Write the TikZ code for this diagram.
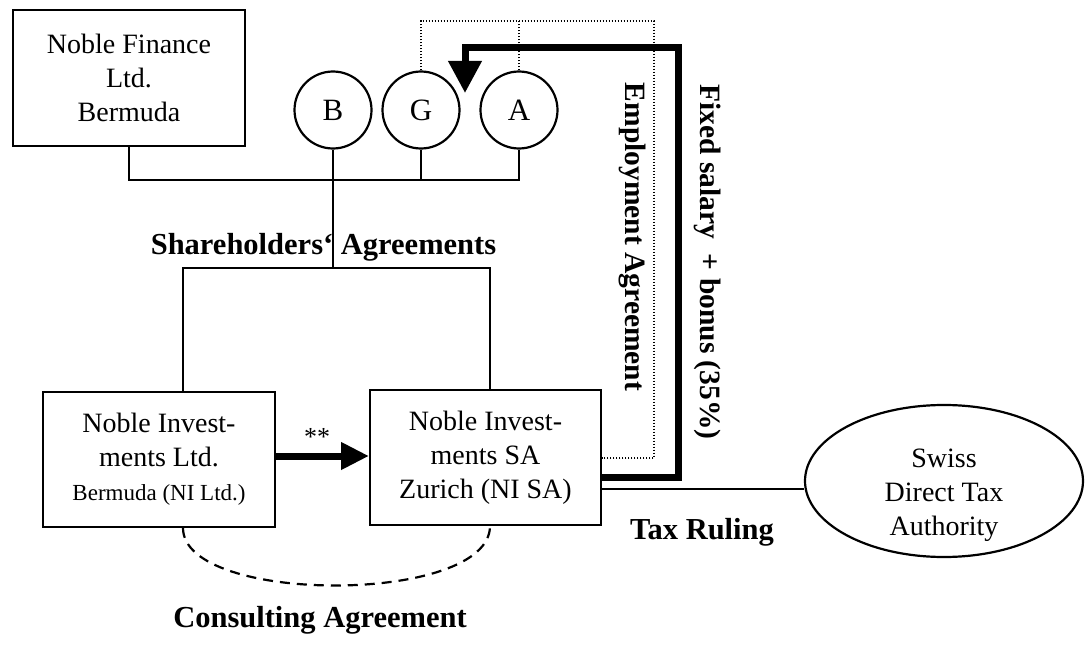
\documentclass[tikz,border=0pt]{standalone}
\usepackage{fontspec}
\setmainfont{Liberation Serif}
\usetikzlibrary{shapes.geometric,arrows.meta}
\begin{document}
\begin{tikzpicture}[x=1pt,y=-1pt, line width=1.6pt,
  box/.style={draw, rectangle, line width=2pt, inner sep=0pt, align=center,
    font=\fontsize{28}{34}\selectfont},
  circ/.style={draw, circle, minimum size=77pt, line width=2.2pt, inner sep=0pt,
    font=\fontsize{31}{34}\selectfont},
  lbl/.style={font=\fontsize{30.5}{34}\selectfont\bfseries, inner sep=0pt},
  txt/.style={align=center, font=\fontsize{28}{34}\selectfont, inner sep=0pt},
  fat/.style={line width=7pt},
  dotline/.style={line width=1.5pt, dash pattern=on 1.5pt off 1.5pt},
  dashline/.style={line width=2.2pt, dash pattern=on 10pt off 7pt}]
\useasboundingbox (0,0) rectangle (1085,669);

% boxes
\node[box, minimum width=232pt, minimum height=136pt] (nf) at (129,78)
  {Noble Finance\\Ltd.\\Bermuda};
\node[box, minimum width=232pt, minimum height=135pt] (nil) at (159,459.5)
  {Noble Invest-\\ments Ltd.\\{\fontsize{23}{34}\selectfont Bermuda (NI Ltd.)}};
\node[box, minimum width=231pt, minimum height=135pt] (nisa) at (485.5,457.5)
  {Noble Invest-\\ments SA\\Zurich (NI SA)};

% circles
\node[circ] (B) at (333,110) {B};
\node[circ] (G) at (421,110) {G};
\node[circ] (A) at (519,110) {A};

% authority
\node[draw, ellipse, line width=2.2pt, minimum width=278pt, minimum height=152pt] (auth) at (944,481) {};
\node[txt] (authtxt) at (944,495) {Swiss\\Direct Tax\\Authority};

% ownership lines
\coordinate (bus) at (0,180);
\coordinate (sh) at (0,268);
\draw (nf.south) |- (A.south |- bus) -- (A.south);
\draw (G.south) -- (G.south |- bus);
\draw (B.south) -- (B.south |- sh);
\draw ([xshift=24pt]nil.north) |- ([xshift=4.5pt]nisa.north |- sh) -- ([xshift=4.5pt]nisa.north);

% employment agreement (dotted)
\coordinate (top) at (0,21);
\coordinate (ed) at (654,458);
\draw[dotline] (G.north) -- (G.north |- top) -| (ed) -- (nisa.east |- ed);
\draw[dotline] (A.north) -- (A.north |- top);

% salary arrow
\coordinate (pay) at (465,93);
\coordinate (pc) at (678,48);
\draw[fat, -{Triangle[length=32pt,width=32pt]}]
  ([yshift=-19.5pt]nisa.east) -| (pc) -| (pay);

% ** arrow
\draw[fat, -{Triangle[length=28pt,width=26pt]}] ([yshift=3.5pt]nil.east) -- ([yshift=3.5pt]nil.east -| nisa.west);
\node[font=\fontsize{26}{28}\selectfont, inner sep=0pt] (stars) at (317,437) {**};

% tax ruling
\draw ([yshift=-31.5pt]nisa.east) -- ([yshift=-31.5pt]nisa.east -| auth.west);

% consulting agreement
\draw[dashline] ([xshift=24pt]nil.south) .. controls (183,605) and (490,605) .. ([xshift=4.5pt]nisa.south);

% labels
\node[lbl] (shl) at (323.5,247) {Shareholders‘ Agreements};
\node[lbl] (trl) at (702,532) {Tax Ruling};
\node[lbl] (cal) at (320,620) {Consulting Agreement};
\node[lbl, font=\fontsize{29.5}{34}\selectfont\bfseries, rotate=-90] (eal) at (632,237) {Employment Agreement};
\node[lbl, font=\fontsize{29.5}{34}\selectfont\bfseries, rotate=-90] (fsl) at (708,262) {Fixed salary \ + bonus (35\%)};
\end{tikzpicture}
\end{document}
